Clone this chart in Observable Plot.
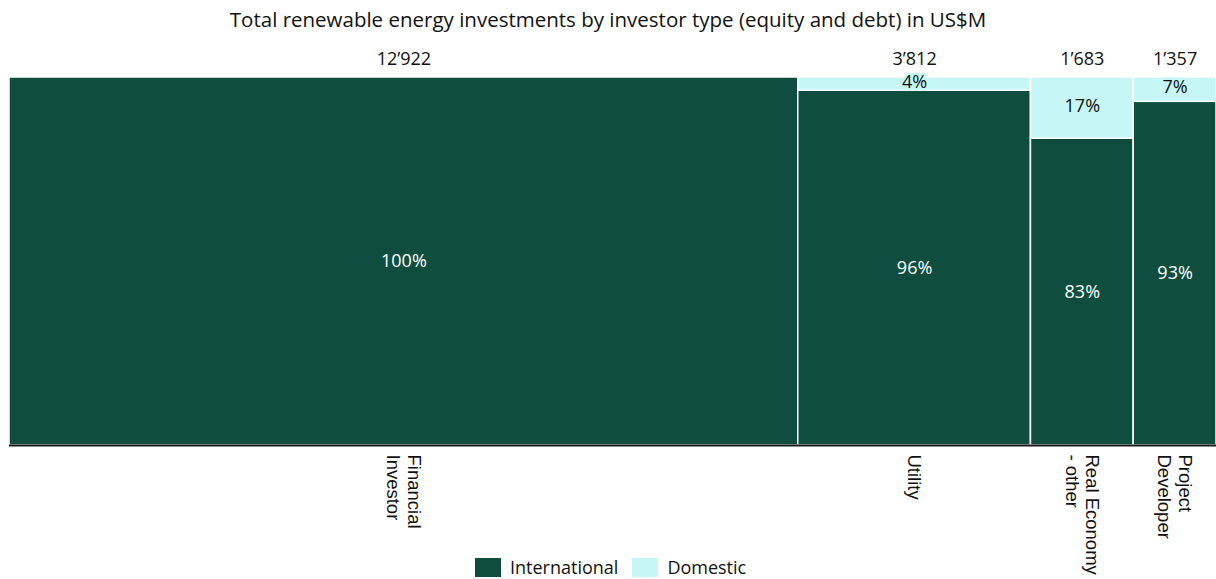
<!DOCTYPE html>
<html><head><meta charset="utf-8">
<script src="https://cdn.jsdelivr.net/npm/d3@7"></script>
<script src="https://cdn.jsdelivr.net/npm/@observablehq/plot@0.6"></script>
<style>
body{margin:0;background:#fff;width:1216px;height:579px;position:relative;overflow:hidden;font-family:"Open Sans",sans-serif;color:#111;}
#title{position:absolute;top:5px;left:0;width:1216px;text-align:center;font-size:20.5px;line-height:28px;}
#chart{position:absolute;top:36px;left:0;}
#legend{position:absolute;top:554px;left:475px;display:flex;align-items:center;font-size:18px;line-height:26px;}
.sw{display:inline-block;width:26px;height:19px;margin-right:9px;}
.it{margin-right:14px;}
</style></head>
<body>
<div id="title">Total renewable energy investments by investor type (equity and debt) in US$M</div>
<div id="chart"></div>
<div id="legend"><span class="sw" style="background:#0f4e3e"></span><span class="it">International</span><span class="sw" style="background:#c6f6f6"></span><span class="it">Domestic</span></div>
<script>
const categories = ["Financial\nInvestor", "Utility", "Real Economy\n- other", "Project\nDeveloper"];
const totals = [12922, 3812, 1683, 1357];
const internationalShare = [100, 96.4, 83.4, 93.4];
const domesticShare = [0, 3.6, 16.6, 6.6];
const seriesNames = ["International", "Domestic"];
const seriesColors = ["#0f4e3e", "#c6f6f6"];

const sum = d3.sum(totals);
let acc = 0;
const cats = categories.map((c, i) => {
  const x1 = acc; acc += totals[i];
  return {cat: c, x1, x2: acc, mid: (x1 + acc) / 2, total: totals[i],
          label: d3.format(",")(totals[i]).replace(/,/g, "’")};
});
const rows = [];
cats.forEach((c, i) => {
  rows.push({...c, type: "International", y1: 0, y2: internationalShare[i], share: internationalShare[i]});
  if (domesticShare[i] > 0)
    rows.push({...c, type: "Domestic", y1: internationalShare[i], y2: 100, share: domesticShare[i]});
});

const chart = Plot.plot({
  width: 1216, height: 543,
  marginLeft: 9, marginRight: 0, marginTop: 41, marginBottom: 134,
  x: {domain: [0, sum], axis: null},
  y: {domain: [0, 100], axis: null},
  color: {domain: seriesNames, range: seriesColors},
  style: {fontFamily: "'Open Sans', sans-serif", color: "#111"},
  marks: [
    Plot.rect(rows, {x1: "x1", x2: "x2", y1: "y1", y2: "y2", fill: "type", stroke: "white", strokeWidth: 1.5}),
    Plot.ruleY([0], {stroke: "#1a1a1a", strokeWidth: 2}),
    Plot.text(cats, {x: "mid", y: 100, text: "label", dy: -18, fontSize: 18, fill: "#111"}),
    Plot.text(rows.filter(d => d.type === "International"), {x: "mid", y: d => (d.y1 + d.y2) / 2, text: d => Math.round(d.share) + "%", fontSize: 18, fill: "white"}),
    Plot.text(rows.filter(d => d.type === "Domestic"), {x: "mid", y: d => (d.y1 + d.y2) / 2, text: d => Math.round(d.share) + "%", dy: -2, fontSize: 18, fill: "#111", stroke: "#c6f6f6", strokeWidth: 5}),
    Plot.text(cats, {x: "mid", y: 0, text: "cat", rotate: 90, textAnchor: "start", lineAnchor: "middle", lineHeight: 1.1, dy: 9, fontSize: 18.5, fontFamily: "'Liberation Sans', Arial, sans-serif", fill: "#111"})
  ]
});
document.getElementById("chart").appendChild(chart);
</script>
</body></html>
